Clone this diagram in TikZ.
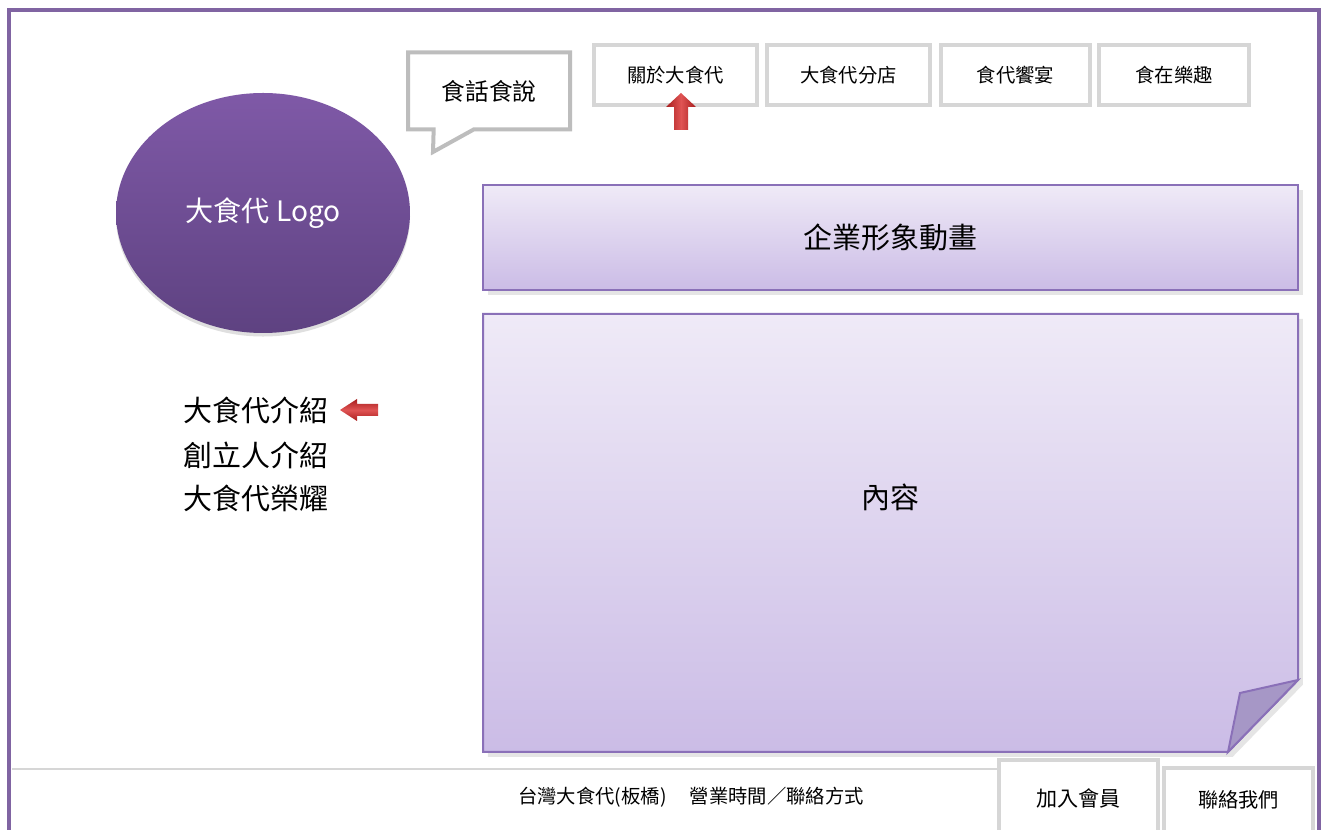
\documentclass[tikz,border=0pt]{standalone}
\usepackage{fontspec}
\setmainfont{Noto Sans CJK TC}
\usetikzlibrary{shapes.geometric,shapes.callouts,shadows}
\definecolor{framepurple}{HTML}{8064A2}
\definecolor{boxgrey}{HTML}{D6D6D6}
\definecolor{bubblegrey}{HTML}{BDBDBD}
\definecolor{lilacline}{HTML}{8A70B8}
\definecolor{lilactop}{HTML}{EFEAF7}
\definecolor{lilacbot}{HTML}{CBBCE6}
\definecolor{logotop}{HTML}{7F59A7}
\definecolor{logobot}{HTML}{5E4281}
\definecolor{foldlilac}{HTML}{A697C6}
\definecolor{arrowred}{HTML}{A81E1E}
\definecolor{arrowlight}{HTML}{E05454}
\def\px{0.02cm}
\def\menuy{75}
\def\menuh{60}
\newcommand{\fsize}[1]{\fontsize{#1}{#1}\selectfont}
\newcommand{\navbox}[4]{
    \node[menubox, minimum width=#3*\px] (#1) at (#2,\menuy) {\fsize{11pt}#4};
}
\newcommand{\sideitem}[3]{
    \node[anchor=west, inner sep=0pt] (#1) at (183,#2) {\fsize{16.5pt}#3};
}
\tikzset{
    menubox/.style={draw=boxgrey, line width=4*\px, fill=white, inner sep=0pt,
        minimum height=\menuh*\px},
    lilacbox/.style={draw=lilacline, line width=2*\px, top color=lilactop,
        bottom color=lilacbot, drop shadow={opacity=0.2}},
    footline/.style={draw=boxgrey, line width=2*\px}
}

\begin{document}
\begin{tikzpicture}[x=\px, y=-\px]
    \useasboundingbox[fill=white] (0,0) rectangle (1322,830);
    \draw[framepurple, line width=4*\px] (9,850) -- (9,10) -- (1319,10) -- (1319,850);

    \node[rectangle callout, draw=bubblegrey, line width=4*\px, fill=white, inner sep=0pt,
        minimum width=162*\px, minimum height=77*\px, callout pointer width=40*\px,
        callout absolute pointer={(433,152)}] (talk) at (489,91) {\fsize{13.5pt}食話食說};
    \navbox{about}{675.5}{163}{關於大食代}
    \navbox{shops}{848.5}{163}{大食代分店}
    \navbox{feast}{1015.5}{149}{食代饗宴}
    \navbox{fun}{1174}{150}{食在樂趣}
    \shade[left color=arrowred, right color=arrowred, middle color=arrowlight]
        (681,93) -- (696,107) -- (688,107) -- (688,130) -- (674,130) -- (674,107) -- (666,107) -- cycle;

    \node[ellipse, minimum width=294*\px, minimum height=240*\px, top color=logotop,
        bottom color=logobot, text=white,
        drop shadow={opacity=0.25, shadow xshift=0pt, shadow yshift=-2pt}] (logo) at (263,213)
        {\fsize{16pt}大食代 Logo};

    \node[lilacbox, minimum width=815*\px, minimum height=105*\px] (anim) at (890.5,237.5)
        {\fsize{16.5pt}企業形象動畫};
    \path[lilacbox] (483,314) -- (1298,314) -- (1298,680) -- (1228,752) -- (483,752) -- cycle;
    \path[draw=lilacline, line width=2*\px, fill=foldlilac] (1298,680) -- (1240,693) -- (1228,752) -- cycle;
    \node (body) at (890,497) {\fsize{16.5pt}內容};

    \sideitem{intro}{410}{大食代介紹}
    \sideitem{founder}{455}{創立人介紹}
    \sideitem{honor}{498}{大食代榮耀}
    \shade[top color=arrowred, bottom color=arrowred, middle color=arrowlight]
        (340,410) -- (357,399) -- (357,404) -- (378,404) -- (378,416) -- (357,416) -- (357,421) -- cycle;

    \draw[footline] (12,769) -- (999,769);
    \node (hours) at (691,797) {\fsize{11pt}台灣大食代(板橋)\hspace{1.2em}營業時間／聯絡方式};
    \node[menubox, minimum width=159*\px, minimum height=76*\px] (join) at (1078.5,798)
        {\fsize{12pt}加入會員};
    \node[menubox, minimum width=149*\px, minimum height=68*\px] (contact) at (1238.5,802)
        {\raisebox{4pt}{\fsize{11.5pt}聯絡我們}};
\end{tikzpicture}
\end{document}
